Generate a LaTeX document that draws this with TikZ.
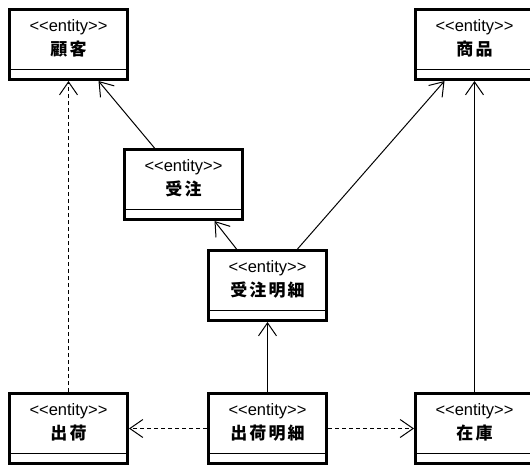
\documentclass[tikz,border=0pt]{standalone}
\usepackage{fontspec}
\setmainfont{Liberation Sans}
\newfontfamily\cjk{Noto Sans CJK JP}[LetterSpace=12]
\usetikzlibrary{arrows.meta,calc}
\tikzset{
  ebox/.style={draw, line width=3pt, minimum width=118pt, minimum height=70pt, inner sep=0pt, fill=white},
  sepline/.style={line width=1pt},
  etext/.style={align=center, inner sep=0pt, font=\fontsize{16.5pt}{24pt}\selectfont},
  assoc/.style={line width=1pt, -{Straight Barb[length=13pt,width=18pt,line width=1pt]}},
  dep/.style={assoc, dash pattern=on 4pt off 3pt},
}
\newcommand\entbox[3]{%
  \node[ebox, anchor=north west] (#1) at #2 {};
  \draw[sepline] ([yshift=12pt]#1.south west) -- ([yshift=12pt]#1.south east);
  \node[etext] (#1t) at ([yshift=-30pt]#1.north) {<{}<entity>{}>\\{\cjk\bfseries\fontsize{17pt}{24pt}\selectfont #3}};
}
\begin{document}
\begin{tikzpicture}[x=1pt,y=-1pt]
\useasboundingbox[fill=white] (0,0) rectangle (530,464);
\entbox{A}{(8,8)}{顧客}
\entbox{B}{(414,8)}{商品}
\entbox{C}{(123,148)}{受注}
\entbox{D}{(207,249)}{受注明細}
\entbox{E}{(8,392)}{出荷}
\entbox{F}{(207,392)}{出荷明細}
\entbox{G}{(414,392)}{在庫}
\draw[assoc] ([xshift=-29pt]C.north) -- ([xshift=30pt]A.south);
\draw[dep] (E.north) -- (A.south);
\draw[assoc] ([xshift=-31pt]D.north) -- ([xshift=31pt]C.south);
\draw[assoc] ([xshift=30pt]D.north) -- ([xshift=-30pt]B.south);
\draw[assoc] (G.north) -- (B.south);
\draw[assoc] (F.north) -- (D.south);
\draw[dep] (F.west) -- (E.east);
\draw[dep] (F.east) -- (G.west);
\end{tikzpicture}
\end{document}
